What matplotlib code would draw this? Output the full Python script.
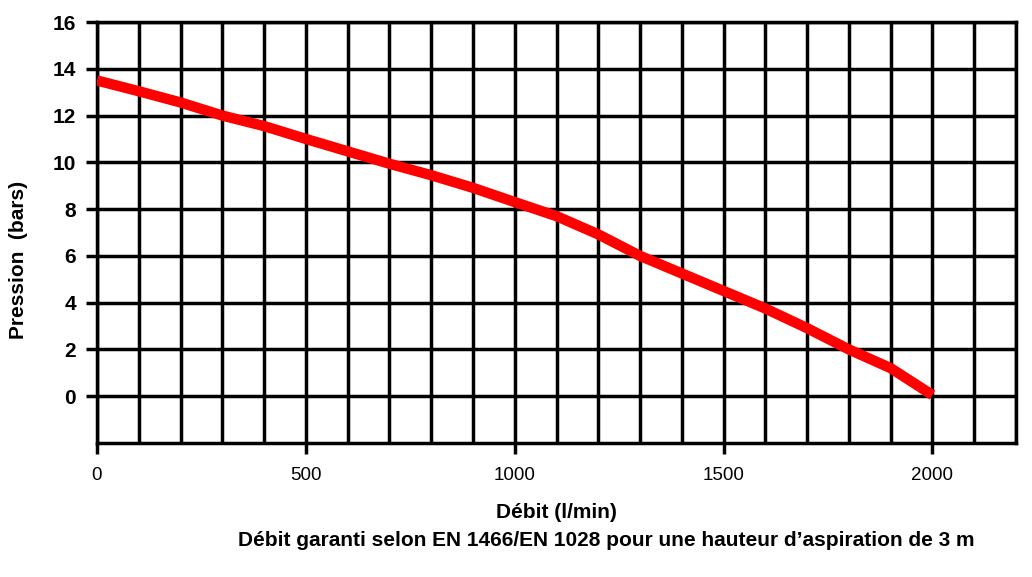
import matplotlib
matplotlib.use("Agg")
import matplotlib.pyplot as plt
from matplotlib.ticker import MultipleLocator, FixedLocator

# Data
debit = [0, 100, 200, 300, 400, 500, 600, 700, 800, 900, 1000, 1100, 1200,
         1300, 1400, 1500, 1600, 1700, 1800, 1900, 2000]
pression = [13.5, 13.04, 12.56, 12.0, 11.55, 11.0, 10.47, 9.94, 9.45, 8.91,
            8.3, 7.7, 6.92, 6.0, 5.25, 4.5, 3.75, 2.91, 2.0, 1.2, 0.05]
x_ticks = [0, 500, 1000, 1500, 2000]
y_ticks = [0, 2, 4, 6, 8, 10, 12, 14, 16]

plt.rcParams['font.family'] = ['Liberation Sans', 'DejaVu Sans']

fig = plt.figure(figsize=(10.32, 5.77), dpi=100)
ax = fig.add_axes([97/1032, 1 - 443/577, 919/1032, 421/577])

ax.set_xlim(0, 2200)
ax.set_ylim(-2, 16)

ax.xaxis.set_major_locator(FixedLocator(x_ticks))
ax.xaxis.set_minor_locator(MultipleLocator(100))
ax.yaxis.set_major_locator(FixedLocator(y_ticks))

lw = 2.5
ax.grid(which='both', axis='x', color='black', linewidth=lw)
ax.grid(which='major', axis='y', color='black', linewidth=lw)
ax.set_axisbelow(True)
for s in ax.spines.values():
    s.set_linewidth(lw)
    s.set_color('black')

ax.tick_params(axis='x', which='major', length=8, width=lw, pad=9,
               labelsize=13.5, direction='out')
ax.tick_params(axis='x', which='minor', length=0)
ax.tick_params(axis='y', which='major', length=8, width=lw, pad=7,
               labelsize=15, direction='out')
for lab in ax.get_yticklabels():
    lab.set_fontweight('bold')

ax.plot(debit, pression, color='#ff0000', linewidth=7.5,
        solid_capstyle='butt', solid_joinstyle='round', zorder=5)

ax.set_xlabel('Débit (l/min)', fontsize=15, fontweight='bold')
ax.xaxis.set_label_coords(0.5, -70/421)
ax.xaxis.label.set_verticalalignment('center')

ax.set_ylabel('Pression  (bars)', fontsize=15, fontweight='bold')
ax.yaxis.set_label_coords(-78/919, 183/421)
ax.yaxis.label.set_verticalalignment('center')

fig.text(606/1032, 1 - 541/577,
         'Débit garanti selon EN 1466/EN 1028 pour une hauteur d’aspiration de 3 m',
         ha='center', va='center', fontsize=15, fontweight='bold')

fig.savefig('out.png', dpi=100)
